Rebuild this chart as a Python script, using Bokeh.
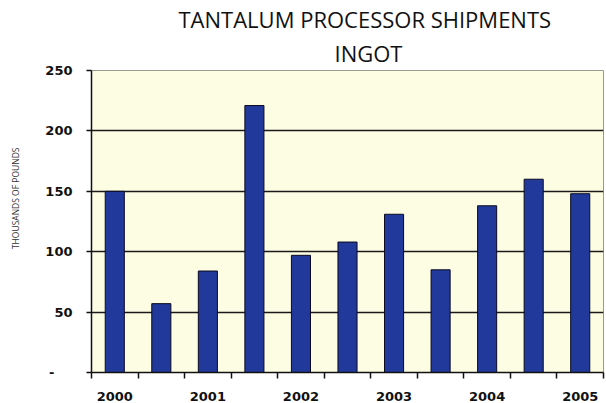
from bokeh.plotting import figure
from bokeh.models import Range1d, FixedTicker, Title, ColumnDataSource
from bokeh.embed import file_html
from bokeh.resources import INLINE

# ---- data ----
periods = [2000.0, 2000.5, 2001.0, 2001.5, 2002.0, 2002.5,
           2003.0, 2003.5, 2004.0, 2004.5, 2005.0]
shipments = [150, 57, 84, 221, 97, 108, 131, 85, 138, 160, 148]
year_ticks = [2000, 2001, 2002, 2003, 2004, 2005]
year_labels = ["2000", "2001", "2002", "2003", "2004", "2005"]
y_ticks = [0, 50, 100, 150, 200, 250]
title_line1 = "TANTALUM PROCESSOR SHIPMENTS"
title_line2 = "INGOT"
y_title = "THOUSANDS OF POUNDS"

half = 0.25
boundaries = [p - half for p in periods] + [periods[-1] + half]

p = figure(width=606, height=403, output_backend="svg", toolbar_location=None,
           x_range=Range1d(periods[0] - half, periods[-1] + half),
           y_range=Range1d(0, 250),
           min_border_left=91, min_border_right=3,
           min_border_top=70, min_border_bottom=30)
p.title.visible = False
p.background_fill_color = "#fdfde3"
p.border_fill_color = "white"
p.outline_line_color = "#9a9a90"
p.outline_line_width = 1

src = ColumnDataSource(dict(x=periods, top=shipments))
p.vbar(x="x", top="top", width=0.205, source=src,
       fill_color="#22399c", line_color="#0a0a20", line_width=1)

# grid
p.xgrid.visible = False
p.ygrid.ticker = FixedTicker(ticks=[50, 100, 150, 200])
p.ygrid.grid_line_color = "#1a1a1a"
p.ygrid.grid_line_width = 1.5

# x axis
xa = p.xaxis[0]
xa.ticker = FixedTicker(ticks=year_ticks, minor_ticks=boundaries)
xa.major_label_overrides = {t: l for t, l in zip(year_ticks, year_labels)}
xa.major_tick_out = 0
xa.major_tick_in = 0
xa.minor_tick_out = 6
xa.minor_tick_in = 0
xa.minor_tick_line_color = "#111111"
xa.minor_tick_line_width = 1.5
xa.axis_line_color = "#111111"
xa.axis_line_width = 1.5
xa.major_label_text_font = "DejaVu Sans"
xa.major_label_text_font_style = "bold"
xa.major_label_text_font_size = "13px"
xa.major_label_text_color = "#111111"
xa.major_label_standoff = 13

# y axis
ya = p.yaxis[0]
ya.ticker = FixedTicker(ticks=y_ticks)
ya.major_label_overrides = {0: "-\u2007\u2007"}
ya.major_tick_out = 5
ya.major_tick_in = 0
ya.minor_tick_line_color = None
ya.major_tick_line_color = "#111111"
ya.major_tick_line_width = 1.5
ya.axis_line_color = "#111111"
ya.axis_line_width = 1.5
ya.major_label_text_font = "DejaVu Sans"
ya.major_label_text_font_style = "bold"
ya.major_label_text_font_size = "13px"
ya.major_label_text_color = "#111111"
ya.major_label_standoff = 14
ya.axis_label = "\u00a0" * 21 + y_title
ya.axis_label_text_font = "Open Sans"
ya.axis_label_text_font_style = "normal"
ya.axis_label_text_font_size = "8.5px"
ya.axis_label_text_color = "#333333"
ya.axis_label_standoff = 21

# titles
p.add_layout(Title(text=title_line2, align="left", offset=243,
                   text_font="Open Sans", text_font_size="22px",
                   text_font_style="normal", text_color="#111111",
                   standoff=5), "above")
p.add_layout(Title(text=title_line1, align="left", offset=87,
                   text_font="Open Sans", text_font_size="22px",
                   text_font_style="normal", text_color="#111111",
                   standoff=0), "above")

open("out.html", "w").write(file_html(p, INLINE))
